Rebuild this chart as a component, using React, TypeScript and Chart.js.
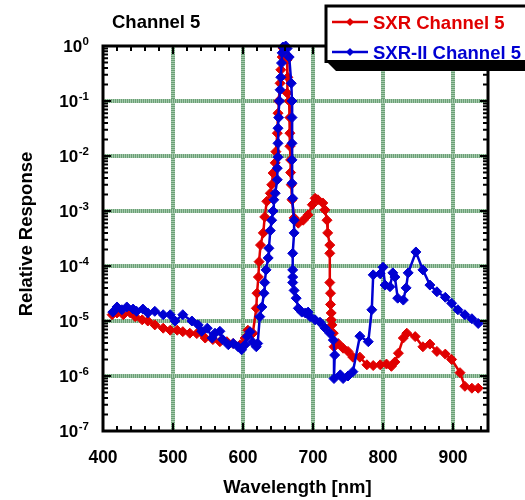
import React, { useEffect, useRef } from "react";
import { Chart, registerables } from "chart.js";

Chart.register(...registerables);

const FONT = "'Liberation Sans', Arial, Helvetica, sans-serif";

const chartTitle = "Channel 5";
const xAxisTitle = "Wavelength [nm]";
const yAxisTitle = "Relative Response";
const seriesLabels = ["SXR Channel 5", "SXR-II Channel 5"];
const seriesColors = ["#e00000", "#0000d2"];

const xTickValues = [400, 500, 600, 700, 800, 900];
const yTickExponents = [0, -1, -2, -3, -4, -5, -6, -7];

const sxrWavelength = [
  413, 420, 429, 439, 446, 456, 464, 474, 486, 496, 506, 514, 524, 534, 546, 557, 567, 577, 586, 596,
  603, 607, 614, 619, 620, 622, 623, 625, 629, 631, 634, 639, 641, 643, 646, 647, 649, 650, 651, 653,
  654, 656, 657, 661, 663, 664, 663, 666, 667, 667, 667, 668, 668, 669, 670, 673, 679, 686, 693, 699,
  703, 707, 714, 717, 720, 721, 724, 724, 724, 725, 725, 726, 726, 727, 729, 730, 736, 743, 750, 757,
  767, 777, 786, 796, 805, 812, 817, 822, 829, 834, 846, 857, 867, 877, 889, 898, 910, 917, 927, 936,
];
const sxrResponse = [
  1.3e-5, 1.4e-5, 1.3e-5, 1.4e-5, 1.2e-5, 1.05e-5, 1e-5, 8.5e-6, 7.4e-6, 6.8e-6, 6.8e-6, 6.4e-6, 6e-6, 5.9e-6, 4.9e-6, 4.6e-6, 4.2e-6, 4.2e-6, 3.9e-6, 3.7e-6,
  4.9e-6, 6.8e-6, 6e-6, 1.7e-5, 3.2e-5, 6.3e-5, 1.2e-4, 2.4e-4, 4e-4, 7.8e-4, 1.5e-3, 2.1e-3, 3e-3, 4.9e-3, 7.5e-3, 0.012, 0.026, 0.06, 0.1, 0.21,
  0.37, 0.63, 0.92, 0.92, 0.56, 0.27, 0.14, 0.1, 0.05, 0.026, 0.015, 8.5e-3, 5e-3, 3e-3, 1.6e-3, 7.5e-4, 6e-4, 6.8e-4, 8.5e-4, 1.3e-3,
  1.7e-3, 1.6e-3, 1.4e-3, 1.05e-3, 6.8e-4, 4e-4, 2.4e-4, 1.7e-4, 5e-5, 3.2e-5, 2e-5, 1.4e-5, 1.05e-5, 8.5e-6, 6e-6, 3.4e-6, 3.9e-6, 3.2e-6, 2.8e-6, 2.2e-6,
  2.2e-6, 1.6e-6, 1.55e-6, 1.6e-6, 1.65e-6, 1.5e-6, 1.8e-6, 2.6e-6, 4.9e-6, 6e-6, 5.2e-6, 3.4e-6, 3.8e-6, 2.8e-6, 2.5e-6, 2e-6, 1.15e-6, 6.5e-7, 6e-7, 6e-7,
];

const sxr2Wavelength = [
  414, 420, 427, 434, 443, 448, 457, 464, 474, 486, 496, 503, 514, 527, 536, 541, 549, 556, 560, 567,
  571, 579, 586, 593, 598, 603, 606, 610, 614, 619, 621, 624, 627, 630, 631, 633, 636, 637, 639, 641,
  643, 644, 646, 649, 649, 650, 650, 650, 651, 652, 653, 654, 655, 656, 657, 661, 663, 666, 669, 670,
  670, 670, 670, 670, 671, 673, 673, 671, 671, 671, 671, 673, 676, 679, 684, 689, 693, 696, 703, 710,
  717, 724, 729, 731, 730, 739, 743, 750, 757, 767, 779, 784, 786, 796, 800, 803, 810, 814, 817, 821,
  829, 833, 836, 847, 857, 867, 877, 889, 898, 907, 917, 927, 936,
];
const sxr2Response = [
  1.45e-5, 1.8e-5, 1.6e-5, 1.8e-5, 1.65e-5, 1.5e-5, 1.65e-5, 1.4e-5, 1.5e-5, 1.3e-5, 1.3e-5, 1e-5, 1.3e-5, 1e-5, 8.5e-6, 6.5e-6, 7.4e-6, 4.9e-6, 6e-6, 6.5e-6,
  4.6e-6, 3.7e-6, 3.9e-6, 3.4e-6, 3e-6, 3.7e-6, 5.2e-6, 6.4e-6, 4.1e-6, 3.4e-6, 3.9e-6, 1.2e-5, 1.8e-5, 3.2e-5, 5e-5, 8.5e-5, 1.4e-4, 2.1e-4, 4.4e-4, 6.8e-4,
  1e-3, 1.6e-3, 2.1e-3, 3.7e-3, 6e-3, 9.5e-3, 0.017, 0.032, 0.05, 0.1, 0.16, 0.27, 0.49, 0.75, 0.96, 1.0, 0.9, 0.63, 0.21, 0.1,
  0.05, 0.017, 8.5e-3, 3.2e-3, 1.7e-3, 6.8e-4, 4e-4, 1.7e-4, 8.5e-5, 6.3e-5, 5e-5, 3.6e-5, 2.6e-5, 1.7e-5, 1.45e-5, 1.4e-5, 1.45e-5, 1.2e-5, 1.05e-5, 9.5e-6,
  7.5e-6, 6e-6, 4.5e-6, 2.4e-6, 9e-7, 1.05e-6, 9e-7, 1e-6, 1.2e-6, 5.3e-6, 4.2e-6, 1.6e-5, 6.9e-5, 7.2e-5, 9.5e-5, 4.5e-5, 4.2e-5, 7.5e-5, 6.3e-5, 2.6e-5,
  2.4e-5, 4e-5, 7.5e-5, 1.8e-4, 8.5e-5, 4.5e-5, 3.4e-5, 2.7e-5, 2.1e-5, 1.6e-5, 1.3e-5, 1.1e-5, 9e-6,
];

const toPoints = (xs: number[], ys: number[]) => xs.map((x, i) => ({ x, y: ys[i] }));

const gridPlugin = {
  id: "customGrid",
  beforeDatasetsDraw(chart: any) {
    const { ctx, chartArea: a, scales } = chart;
    const xs = scales.x;
    const ys = scales.y;
    const strokeLine = (x1: number, y1: number, x2: number, y2: number) => {
      ctx.setLineDash([]);
      ctx.strokeStyle = "#a6cbad";
      ctx.beginPath();
      ctx.moveTo(x1, y1);
      ctx.lineTo(x2, y2);
      ctx.stroke();
      ctx.setLineDash([1, 1]);
      ctx.strokeStyle = "#6b9f76";
      ctx.beginPath();
      ctx.moveTo(x1, y1);
      ctx.lineTo(x2, y2);
      ctx.stroke();
    };
    ctx.save();
    ctx.lineWidth = 4;
    xTickValues.forEach((v) => {
      const px = Math.round(xs.getPixelForValue(v));
      if (px <= a.left + 2 || px >= a.right - 2) return;
      strokeLine(px, a.top, px, a.bottom);
    });
    yTickExponents.forEach((e) => {
      const py = Math.round(ys.getPixelForValue(Math.pow(10, e)));
      if (py <= a.top + 2 || py >= a.bottom - 2) return;
      strokeLine(a.left, py, a.right, py);
    });
    ctx.restore();
  },
};

const decorPlugin = {
  id: "decor",
  afterDraw(chart: any) {
    const { ctx, chartArea: a, scales } = chart;
    const xs = scales.x;
    const ys = scales.y;
    ctx.save();
    ctx.setLineDash([]);
    // ticks
    ctx.strokeStyle = "#000";
    ctx.lineWidth = 2;
    for (let v = 400; v <= 940; v += 20) {
      const px = xs.getPixelForValue(v);
      const len = v % 100 === 0 ? 8 : 5;
      ctx.beginPath();
      ctx.moveTo(px, a.bottom);
      ctx.lineTo(px, a.bottom - len);
      ctx.moveTo(px, a.top);
      ctx.lineTo(px, a.top + len);
      ctx.stroke();
    }
    for (let e = -7; e <= -1; e++) {
      for (let m = 1; m <= 9; m++) {
        const py = ys.getPixelForValue(m * Math.pow(10, e));
        const len = m === 1 ? 8 : 5;
        ctx.beginPath();
        ctx.moveTo(a.left, py);
        ctx.lineTo(a.left + len, py);
        ctx.moveTo(a.right, py);
        ctx.lineTo(a.right - len, py);
        ctx.stroke();
      }
    }
    // frame
    ctx.lineWidth = 3;
    ctx.strokeRect(a.left, a.top, a.right - a.left, a.bottom - a.top);

    // y tick labels
    ctx.fillStyle = "#000";
    yTickExponents.forEach((e) => {
      const py = ys.getPixelForValue(Math.pow(10, e));
      const exp = String(e);
      ctx.font = `bold 11.5px ${FONT}`;
      ctx.textAlign = "right";
      ctx.textBaseline = "alphabetic";
      const ew = ctx.measureText(exp).width;
      ctx.fillText(exp, 89, py - 1);
      ctx.font = `bold 17px ${FONT}`;
      ctx.fillText("10", 89 - ew - 0.5, py + 6);
    });

    // x tick labels
    ctx.font = `bold 17.5px ${FONT}`;
    ctx.textAlign = "center";
    ctx.textBaseline = "alphabetic";
    xTickValues.forEach((v) => {
      ctx.fillText(String(v), xs.getPixelForValue(v), 463);
    });

    // axis titles
    ctx.font = `bold 18.5px ${FONT}`;
    ctx.fillText(xAxisTitle, (a.left + a.right) / 2 + 2, 493);
    ctx.save();
    ctx.translate(32, 234);
    ctx.rotate(-Math.PI / 2);
    ctx.fillText(yAxisTitle, 0, 0);
    ctx.restore();

    // chart title
    ctx.textAlign = "left";
    ctx.fillText(chartTitle, 112, 28);

    // legend
    ctx.fillStyle = "#000";
    ctx.beginPath();
    ctx.moveTo(326, 61);
    ctx.lineTo(336, 71);
    ctx.lineTo(560, 71);
    ctx.lineTo(560, 61);
    ctx.closePath();
    ctx.fill();
    ctx.fillStyle = "#fff";
    ctx.fillRect(326, 6, 240, 55.5);
    ctx.strokeStyle = "#000";
    ctx.lineWidth = 3;
    ctx.strokeRect(326, 6, 240, 55.5);
    const rows = [22, 52];
    seriesLabels.forEach((label, i) => {
      const y = rows[i];
      const c = seriesColors[i];
      ctx.strokeStyle = c;
      ctx.fillStyle = c;
      ctx.lineWidth = 2.5;
      ctx.beginPath();
      ctx.moveTo(332, y);
      ctx.lineTo(368, y);
      ctx.stroke();
      ctx.beginPath();
      ctx.moveTo(350, y - 4);
      ctx.lineTo(354, y);
      ctx.lineTo(350, y + 4);
      ctx.lineTo(346, y);
      ctx.closePath();
      ctx.fill();
      ctx.font = `bold 18.5px ${FONT}`;
      ctx.textAlign = "left";
      ctx.textBaseline = "alphabetic";
      ctx.fillText(label, 373, y + 6.5);
    });
    ctx.restore();
  },
};

export default function App() {
  const canvasRef = useRef<HTMLCanvasElement | null>(null);

  useEffect(() => {
    document.body.style.margin = "0";
    const canvas = canvasRef.current;
    if (!canvas) return;
    const dsCommon = {
      showLine: true,
      borderWidth: 2.5,
      pointStyle: "rectRot",
      pointRadius: 5,
      pointBorderWidth: 1,
      tension: 0,
      clip: false,
    };
    const chart = new Chart(canvas, {
      type: "scatter",
      data: {
        datasets: [
          {
            ...dsCommon,
            label: seriesLabels[1],
            data: toPoints(sxr2Wavelength, sxr2Response),
            borderColor: seriesColors[1],
            backgroundColor: seriesColors[1],
          },
          {
            ...dsCommon,
            label: seriesLabels[0],
            data: toPoints(sxrWavelength, sxrResponse),
            borderColor: seriesColors[0],
            backgroundColor: seriesColors[0],
          },
        ],
      } as any,
      options: {
        animation: false,
        responsive: false,
        devicePixelRatio: 1,
        layout: { padding: { top: 46, right: 37, left: 0, bottom: 0 } },
        plugins: { legend: { display: false }, tooltip: { enabled: false }, title: { display: false } },
        events: [],
        scales: {
          x: {
            type: "linear",
            min: 400,
            max: 950,
            grid: { display: false, drawTicks: false },
            border: { display: false },
            ticks: { display: false },
            afterFit: (s: any) => {
              s.height = 69;
            },
          },
          y: {
            type: "logarithmic",
            min: 1e-7,
            max: 1,
            grid: { display: false, drawTicks: false },
            border: { display: false },
            ticks: { display: false },
            afterFit: (s: any) => {
              s.width = 103;
            },
          },
        },
      } as any,
      plugins: [gridPlugin, decorPlugin],
    });
    return () => chart.destroy();
  }, []);

  return <canvas ref={canvasRef} width={525} height={500} style={{ display: "block" }} />;
}
